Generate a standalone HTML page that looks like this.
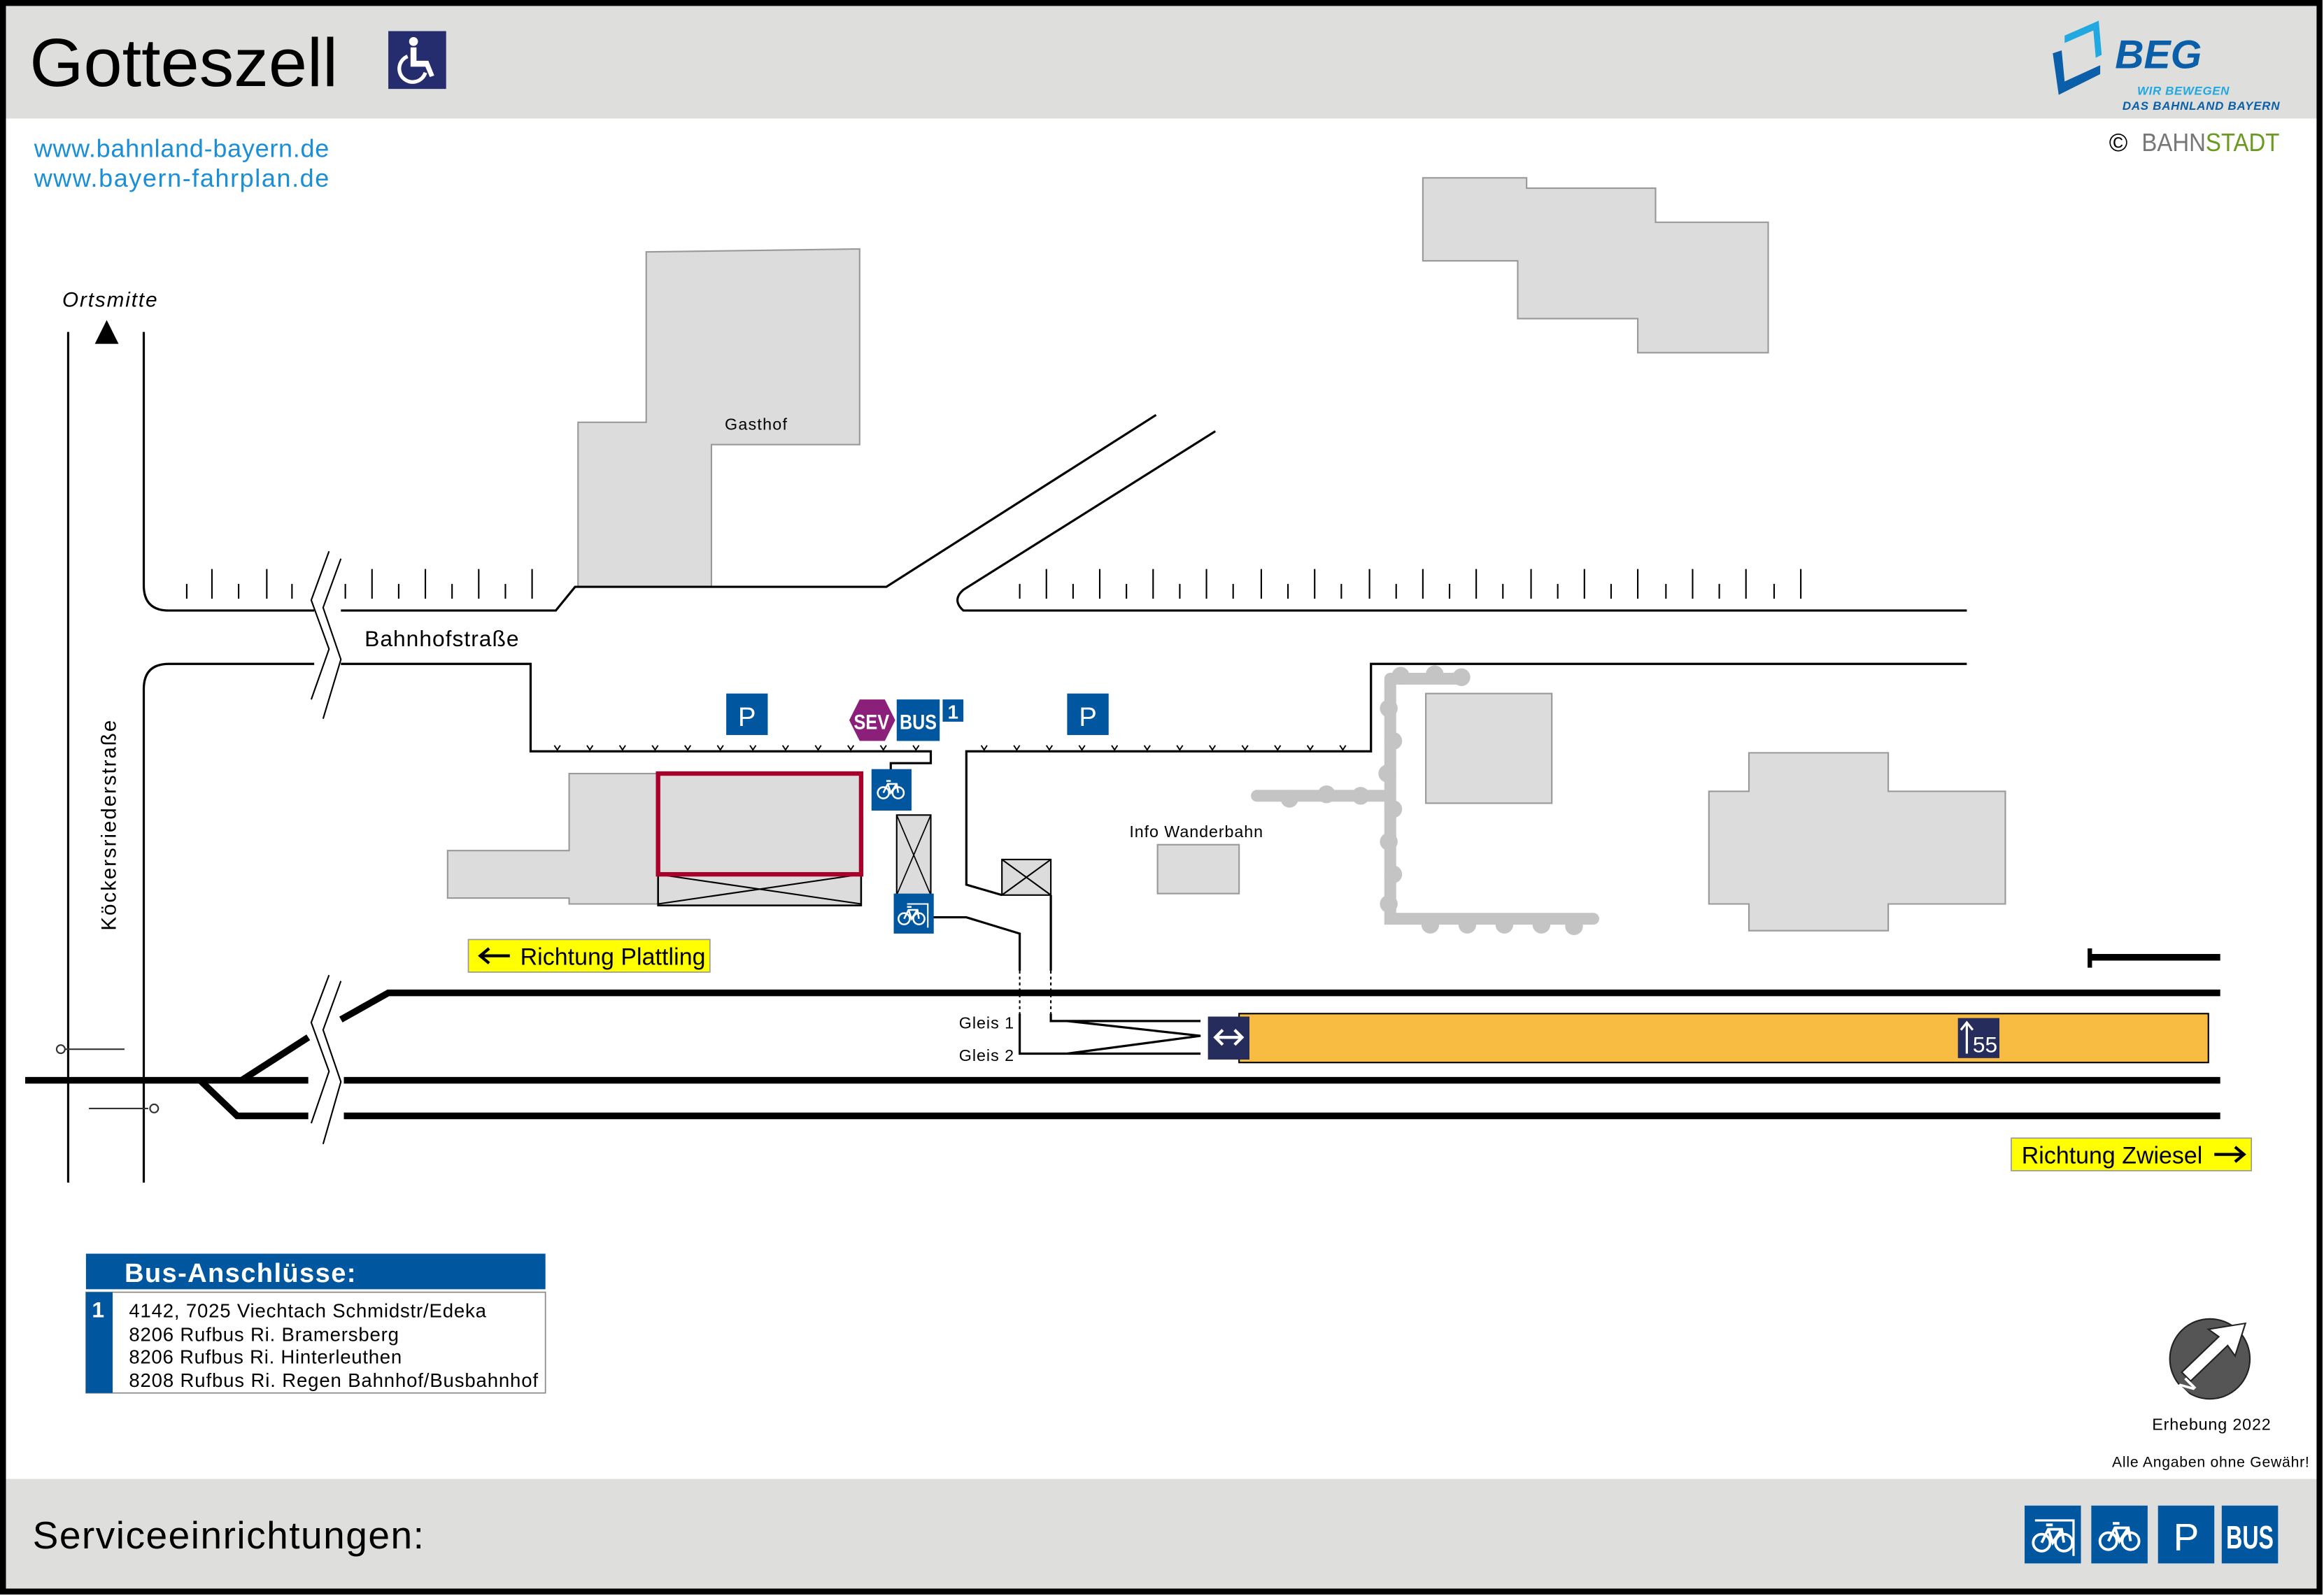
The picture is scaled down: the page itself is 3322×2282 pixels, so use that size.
<!DOCTYPE html>
<html><head><meta charset="utf-8"><style>
html,body{margin:0;padding:0;background:#fff}
svg{display:block}
text{font-family:"Liberation Sans",sans-serif}
</style></head><body>
<svg width="3322" height="2282" viewBox="0 0 1568 1077" preserveAspectRatio="none" xmlns="http://www.w3.org/2000/svg">
<defs>
<g id="bike" fill="none" stroke="#fff" stroke-width="1.2">
<circle cx="-5" cy="2" r="3.8"/><circle cx="5" cy="2" r="3.8"/>
<path d="M-5,2 L-2,-4 H4 L5,2 M-2,-4 L0,2 L4,-4 M-3,-6 H0"/>
</g>
</defs>
<rect x="0" y="0" width="1568" height="1077" fill="#fff"/>
<rect x="3" y="3" width="1561" height="77" fill="#dededd"/>
<rect x="3" y="998" width="1561" height="75" fill="#dededd"/>
<rect x="2" y="2" width="1563" height="1072" fill="none" stroke="#000" stroke-width="4"/>
<text x="20" y="58" font-size="46" textLength="208" lengthAdjust="spacingAndGlyphs">Gotteszell</text>
<rect x="262" y="21" width="39" height="39" fill="#262d6e"/>
<g fill="#fff"><circle cx="279" cy="28" r="3"/><path d="M277,32 h4 v9 h8 l4,10 -3,1 -3,-7 h-10z"/><path d="M275,38 a9,9 0 1,0 12,11" fill="none" stroke="#fff" stroke-width="2.5"/></g>
<!-- BEG logo -->
<polygon points="1412,16 1416,14 1418,37 1414,39" fill="#21a8e1"/>
<polygon points="1393,24 1416,14 1416,19 1393,29" fill="#21a8e1"/>
<polygon points="1385,36 1391,34 1393,55 1417,44 1417,50 1389,64" fill="#0a5fa8"/>
<text x="1427" y="46" font-size="27" font-weight="bold" font-style="italic" fill="#0a5fa8">BEG</text>
<text x="1442" y="64" font-size="8" font-weight="bold" font-style="italic" fill="#21a8e1" textLength="62">WIR BEWEGEN</text>
<text x="1432" y="74" font-size="8" font-weight="bold" font-style="italic" fill="#0a5fa8" textLength="106">DAS BAHNLAND BAYERN</text>
<text x="1423" y="102" font-size="17" fill="#000">©</text>
<text x="1445" y="102" font-size="17" fill="#777" textLength="93" lengthAdjust="spacingAndGlyphs">BAHN<tspan fill="#6a9a1f">STADT</tspan></text>
<text x="23" y="106" font-size="17" fill="#1a8fd8" textLength="199">www.bahnland-bayern.de</text>
<text x="23" y="126" font-size="17" fill="#1a8fd8" textLength="199">www.bayern-fahrplan.de</text>
<!-- buildings -->
<g fill="#dcdcdc" stroke="#999" stroke-width="1">
<polygon points="960,120 1030,120 1030,127 1117,127 1117,150 1193,150 1193,238 1105,238 1105,215 1024,215 1024,176 960,176"/>
<polygon points="436,170 580,168 580,300 480,300 480,396 390,396 390,285 436,285"/>
<polygon points="302,574 384,574 384,522 444,522 444,610 384,610 384,606 302,606"/>
<rect x="962" y="468" width="85" height="74"/>
<polygon points="1180,508 1274,508 1274,534 1353,534 1353,610 1274,610 1274,628 1180,628 1180,610 1153,610 1153,534 1180,534"/>
<rect x="781" y="570" width="55" height="33"/>
</g>
<text x="489" y="290" font-size="11" textLength="42">Gasthof</text>
<text x="762" y="565" font-size="11" textLength="90">Info Wanderbahn</text>
<!-- station building -->
<rect x="444" y="522" width="137" height="89" fill="#dcdcdc" stroke="#000" stroke-width="1.2"/>
<path d="M444,590 L581,610 M444,610 L581,590" stroke="#000" stroke-width="1"/>
<rect x="444" y="522" width="137" height="68" fill="#dcdcdc" stroke="#a8002a" stroke-width="3"/>
<!-- bike shelter -->
<rect x="605" y="550" width="23" height="54" fill="#dcdcdc" stroke="#000" stroke-width="1"/>
<path d="M605,550 L628,604 M628,550 L605,604" stroke="#000" stroke-width="0.8"/>
<rect x="676" y="580" width="33" height="24" fill="#dcdcdc" stroke="#000" stroke-width="1"/>
<path d="M676,580 L709,604 M709,580 L676,604" stroke="#000" stroke-width="1"/>
<!-- roads -->
<g fill="none" stroke="#000" stroke-width="1.5">
<path d="M46,224 V798"/>
<path d="M97,224 V395 Q97,412 114,412 H212"/>
<path d="M230,412 H375 L388,396 H480 M480,396 H598 L780,280"/>
<path d="M820,291 L650,398 Q642,405 650,412 H1327"/>
<path d="M212,448 H114 Q97,448 97,465 V798"/>
<path d="M230,448 H358 V507 H628 V515 H601 V522"/>
<path d="M1327,448 H925 V507 H652 V597 L676,604"/>
<path d="M628,619 H652 L688,630 V655 M709,604 V655"/>
<path d="M688,684 V711 H720 L810,699 L720,689 M709,684 V689 H810 M688,711 H810"/>
</g>
<path d="M688,655 V684 M709,655 V684" stroke="#000" stroke-width="1" stroke-dasharray="2,2"/>
<!-- road ticks -->
<g stroke="#000" stroke-width="1">
<path d="M126,394V404 M143,384V404 M161,394V404 M180,384V404 M197,394V404 M233,394V404 M251,384V404 M269,394V404 M287,384V404 M305,394V404 M323,384V404 M341,394V404 M359,384V404"/>
<path d="M688,394V404 M706,384V404 M724,394V404 M742,384V404 M760,394V404 M778,384V404 M796,394V404 M814,384V404 M832,394V404 M851,384V404 M869,394V404 M887,384V404 M905,394V404 M924,384V404 M942,394V404 M960,384V404 M978,394V404 M996,384V404 M1014,394V404 M1033,384V404 M1051,394V404 M1069,384V404 M1087,394V404 M1105,384V404 M1124,394V404 M1142,384V404 M1160,394V404 M1178,384V404 M1197,394V404 M1215,384V404"/>
</g>
<g fill="none" stroke="#000" stroke-width="0.9">
<path d="M374,503l2,3 2,-3 M396,503l2,3 2,-3 M418,503l2,3 2,-3 M440,503l2,3 2,-3 M462,503l2,3 2,-3 M484,503l2,3 2,-3 M506,503l2,3 2,-3 M528,503l2,3 2,-3 M550,503l2,3 2,-3 M572,503l2,3 2,-3 M594,503l2,3 2,-3 M616,503l2,3 2,-3"/>
<path d="M662,503l2,3 2,-3 M684,503l2,3 2,-3 M706,503l2,3 2,-3 M728,503l2,3 2,-3 M750,503l2,3 2,-3 M772,503l2,3 2,-3 M794,503l2,3 2,-3 M816,503l2,3 2,-3 M838,503l2,3 2,-3 M860,503l2,3 2,-3 M882,503l2,3 2,-3 M904,503l2,3 2,-3"/>
</g>
<!-- path of stones -->
<g fill="#c4c4c4">
<path d="M938,458 H985 M938,458 V620 H1075 M848,537 H938" stroke="#c4c4c4" stroke-width="8" fill="none" stroke-linecap="round"/>
<circle cx="945" cy="456" r="6"/><circle cx="968" cy="455" r="6"/><circle cx="986" cy="457" r="6"/>
<circle cx="937" cy="478" r="6"/><circle cx="940" cy="500" r="6"/><circle cx="936" cy="522" r="6"/><circle cx="940" cy="546" r="6"/><circle cx="937" cy="568" r="6"/><circle cx="940" cy="590" r="6"/><circle cx="937" cy="610" r="6"/>
<circle cx="870" cy="539" r="6"/><circle cx="895" cy="536" r="6"/><circle cx="918" cy="537" r="6"/>
<circle cx="965" cy="624" r="6"/><circle cx="990" cy="624" r="6"/><circle cx="1015" cy="624" r="6"/><circle cx="1040" cy="624" r="6"/><circle cx="1062" cy="625" r="6"/>
</g>
<!-- break marks -->
<g fill="none" stroke="#000" stroke-width="1">
<path d="M222,372 L210,405 L222,438 L210,472"/>
<path d="M230,377 L218,410 L230,445 L218,485"/>
<path d="M222,658 L210,690 L222,723 L210,758"/>
<path d="M230,662 L218,695 L230,730 L218,772"/>
</g>
<!-- tracks -->
<g stroke="#000" stroke-width="4.5" fill="none">
<path d="M230,688 L262,670 H1498"/>
<path d="M163,729 L208,700"/>
<path d="M17,729 H208 M232,729 H1498"/>
<path d="M135,729 L160,753 H208 M232,753 H1498"/>
<path d="M1410,646 H1498"/>
</g>
<path d="M1410,640 V653" stroke="#000" stroke-width="3"/>
<g stroke="#333" stroke-width="1" fill="#fff">
<path d="M44,708 H84 M60,748 H100"/>
<circle cx="41" cy="708" r="2.8"/><circle cx="104" cy="748" r="2.8"/>
</g>
<!-- platform -->
<rect x="836" y="684" width="654" height="33" fill="#f9bc42" stroke="#000" stroke-width="1"/>
<rect x="815" y="686" width="28" height="29" fill="#262d5c"/>
<path d="M821,700 H837 M825,695 L820,700 825,705 M833,695 L838,700 833,705" stroke="#fff" stroke-width="2" fill="none"/>
<rect x="1321" y="687" width="28" height="27" fill="#262d5c"/>
<path d="M1327,711 V691 M1323,695 L1327,690 1331,695" stroke="#fff" stroke-width="1.5" fill="none"/>
<text x="1331" y="710" font-size="15" fill="#fff">55</text>
<text x="647" y="694" font-size="11" textLength="37">Gleis 1</text>
<text x="647" y="716" font-size="11" textLength="37">Gleis 2</text>
<!-- labels -->
<text x="42" y="207" font-size="14" font-style="italic" textLength="64">Ortsmitte</text>
<polygon points="72,216 80,232 64,232" fill="#000"/>
<text x="246" y="436" font-size="15" textLength="104">Bahnhofstraße</text>
<text transform="translate(78,628) rotate(-90)" font-size="14" textLength="142">Köckersriederstraße</text>
<rect x="316" y="634" width="163" height="22" fill="#ffff00" stroke="#999" stroke-width="0.8"/>
<path d="M324,645 H344 M330,640 L324,645 330,650" stroke="#000" stroke-width="2" fill="none"/>
<text x="351" y="651" font-size="16" textLength="125">Richtung Plattling</text>
<rect x="1357" y="768" width="162" height="22" fill="#ffff00" stroke="#999" stroke-width="0.8"/>
<text x="1364" y="785" font-size="16" textLength="122">Richtung Zwiesel</text>
<path d="M1494,779 H1514 M1508,774 L1514,779 1508,784" stroke="#000" stroke-width="2" fill="none"/>
<!-- icons -->
<rect x="490" y="468" width="28" height="28" fill="#0057a0"/>
<text x="504" y="490" font-size="18" fill="#fff" text-anchor="middle">P</text>
<rect x="720" y="468" width="28" height="28" fill="#0057a0"/>
<text x="734" y="490" font-size="18" fill="#fff" text-anchor="middle">P</text>
<polygon points="580,472 597,472 604,486 597,500 580,500 573,486" fill="#8b1f7a"/>
<text x="588" y="492" font-size="14" fill="#fff" text-anchor="middle" font-weight="bold" textLength="24" lengthAdjust="spacingAndGlyphs">SEV</text>
<rect x="605" y="472" width="29" height="28" fill="#0057a0"/>
<text x="619.5" y="492" font-size="14" fill="#fff" text-anchor="middle" font-weight="bold" textLength="25" lengthAdjust="spacingAndGlyphs">BUS</text>
<rect x="636" y="472" width="14" height="15" fill="#0057a0"/>
<text x="643" y="485" font-size="13" fill="#fff" text-anchor="middle" font-weight="bold">1</text>
<rect x="588" y="519" width="27" height="28" fill="#0057a0"/>
<use href="#bike" x="601" y="533"/>
<rect x="603" y="603" width="27" height="27" fill="#0057a0"/>
<use href="#bike" x="615" y="618"/>
<path d="M612,610 H626 V626" stroke="#fff" stroke-width="1" fill="none"/>
<!-- bus table -->
<rect x="58" y="846" width="310" height="24" fill="#0057a0"/>
<text x="84" y="865" font-size="18" fill="#fff" font-weight="bold" textLength="156">Bus-Anschlüsse:</text>
<rect x="58" y="872" width="310" height="68" fill="#fff" stroke="#888" stroke-width="0.8"/>
<rect x="58" y="872" width="18" height="68" fill="#0057a0"/>
<text x="62" y="889" font-size="15" fill="#fff" font-weight="bold">1</text>
<text x="87" y="889" font-size="13" textLength="241">4142, 7025 Viechtach Schmidstr/Edeka</text>
<text x="87" y="905" font-size="13" textLength="182">8206 Rufbus Ri. Bramersberg</text>
<text x="87" y="920" font-size="13" textLength="184">8206 Rufbus Ri. Hinterleuthen</text>
<text x="87" y="936" font-size="13" textLength="276">8208 Rufbus Ri. Regen Bahnhof/Busbahnhof</text>
<!-- compass -->
<circle cx="1491" cy="917" r="27" fill="#555" stroke="#222" stroke-width="1"/>
<polygon points="1515,893 1508,915 1503,908 1478,932 1472,926 1497,902 1490,897" fill="#fff" stroke="#222" stroke-width="1"/>
<text x="1470" y="940" font-size="14" fill="#fff" font-weight="bold" transform="rotate(-45 1476 935)">N</text>
<text x="1452" y="965" font-size="11" textLength="80">Erhebung 2022</text>
<text x="1425" y="990" font-size="10" textLength="133">Alle Angaben ohne Gewähr!</text>
<text x="22" y="1045" font-size="26" textLength="264">Serviceeinrichtungen:</text>
<rect x="1366" y="1016" width="38" height="39" fill="#0057a0"/>
<g transform="translate(1385,1038) scale(1.5)"><use href="#bike"/></g>
<path d="M1373,1026 H1399 V1050" stroke="#fff" stroke-width="1.5" fill="none"/>
<rect x="1411" y="1016" width="38" height="39" fill="#0057a0"/>
<g transform="translate(1430,1037) scale(1.5)"><use href="#bike"/></g>
<rect x="1456" y="1016" width="38" height="39" fill="#0057a0"/>
<text x="1475" y="1046" font-size="26" fill="#fff" text-anchor="middle">P</text>
<rect x="1499" y="1016" width="38" height="39" fill="#0057a0"/>
<text x="1518" y="1045" font-size="22" fill="#fff" text-anchor="middle" font-weight="bold" textLength="32" lengthAdjust="spacingAndGlyphs">BUS</text>
</svg>
</body></html>
